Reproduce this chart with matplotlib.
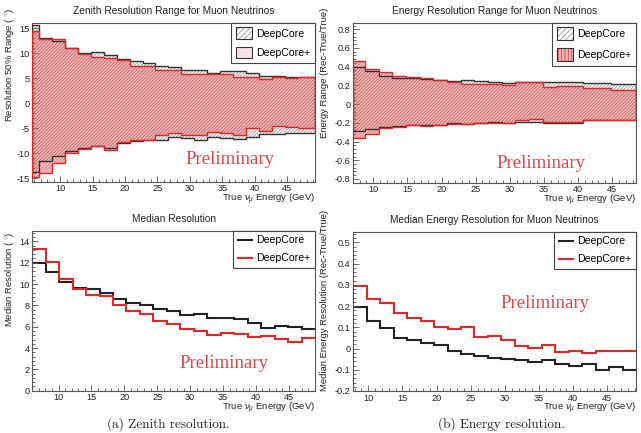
import matplotlib
matplotlib.use('Agg')
import matplotlib.pyplot as plt
from matplotlib.patches import Patch
from matplotlib.lines import Line2D
from matplotlib.legend_handler import HandlerTuple
from matplotlib.ticker import MultipleLocator, FuncFormatter

plt.rcParams['font.family'] = ['Liberation Sans', 'DejaVu Sans']
plt.rcParams['mathtext.fontset'] = 'custom'
plt.rcParams['mathtext.rm'] = 'Liberation Sans'
plt.rcParams['mathtext.it'] = 'Liberation Sans:italic'
plt.rcParams['hatch.linewidth'] = 0.5

# ---------------- data ----------------
# Zenith resolution 50% range (degrees)
zen_edges = [5.7, 6.7, 8.7, 10.7, 12.7, 14.7, 16.7, 18.7, 20.7, 22.7, 24.7, 26.7,
             28.7, 30.7, 32.7, 34.7, 36.7, 38.7, 40.7, 42.7, 44.7, 46.7, 49.3]
zen_dc_hi = [15.6, 13.0, 12.4, 11.0, 10.1, 10.3, 9.7, 8.8, 8.4, 8.0, 7.5,
             7.3, 6.7, 6.7, 6.1, 6.5, 6.5, 6.0, 5.4, 5.5, 5.3, 5.3]
zen_dc_lo = [-13.8, -11.5, -10.6, -9.5, -9.0, -8.5, -9.0, -8.0, -7.6, -7.3, -7.3,
             -6.8, -7.0, -7.3, -6.7, -7.0, -7.2, -6.7, -6.2, -6.2, -6.0, -6.0]
zen_dcp_hi = [14.5, 12.9, 12.8, 11.0, 9.8, 9.3, 9.0, 8.6, 7.5, 7.5, 6.7,
              6.7, 5.8, 5.8, 5.8, 5.9, 5.3, 5.2, 4.9, 5.2, 5.0, 5.3]
zen_dcp_lo = [-14.7, -14.0, -11.9, -10.0, -9.1, -8.6, -9.3, -7.8, -7.4, -7.3, -6.4,
              -6.0, -6.3, -6.3, -5.7, -6.0, -6.3, -5.0, -5.5, -4.5, -4.8, -5.0]

# Energy resolution range (Rec-True)/True
en_edges = [7.07, 8.8, 10.8, 12.8, 14.8, 16.8, 18.8, 20.8, 22.8, 24.8, 26.8,
            28.8, 30.8, 32.8, 34.8, 36.8, 38.8, 40.8, 42.8, 44.8, 46.8, 48.5]
en_dc_hi = [0.40, 0.35, 0.30, 0.28, 0.28, 0.265, 0.255, 0.25, 0.255, 0.245, 0.24,
            0.23, 0.24, 0.24, 0.24, 0.235, 0.24, 0.23, 0.23, 0.22, 0.21]
en_dc_lo = [-0.29, -0.27, -0.25, -0.23, -0.22, -0.225, -0.218, -0.207, -0.214, -0.207, -0.19,
            -0.20, -0.19, -0.19, -0.20, -0.20, -0.20, -0.17, -0.175, -0.17, -0.17]
en_dcp_hi = [0.465, 0.38, 0.34, 0.30, 0.285, 0.275, 0.255, 0.24, 0.22, 0.22, 0.21,
             0.20, 0.235, 0.235, 0.185, 0.19, 0.19, 0.17, 0.17, 0.15, 0.15]
en_dcp_lo = [-0.36, -0.315, -0.26, -0.245, -0.22, -0.235, -0.225, -0.215, -0.214, -0.207, -0.205,
             -0.205, -0.17, -0.155, -0.19, -0.19, -0.19, -0.165, -0.165, -0.17, -0.17]

# Median zenith resolution (degrees)
med_zen_edges = [6.0, 8.1, 10.1, 12.2, 14.2, 16.3, 18.3, 20.3, 22.4, 24.4, 26.5,
                 28.5, 30.6, 32.6, 34.7, 36.7, 38.8, 40.8, 42.9, 44.9, 47.0, 49.0]
med_zen_dc = [11.96, 11.15, 10.2, 9.66, 9.5, 9.16, 8.57, 8.22, 8.0, 7.7, 7.45,
              7.13, 7.16, 6.85, 6.8, 6.76, 6.35, 5.9, 6.07, 5.95, 5.8]
med_zen_dcp = [13.3, 12.1, 10.5, 9.56, 8.98, 8.9, 8.05, 7.5, 7.2, 6.5, 6.23,
               5.83, 5.6, 5.2, 5.42, 5.36, 5.05, 5.14, 4.83, 4.58, 4.95]

# Median energy resolution (Rec-True)/True
med_en_edges = [7.8, 9.77, 11.74, 13.71, 15.69, 17.66, 19.63, 21.6, 23.57, 25.54, 27.51,
                29.49, 31.46, 33.43, 35.4, 37.37, 39.34, 41.31, 43.29, 45.26, 47.23, 49.2]
med_en_dc = [0.197, 0.131, 0.098, 0.049, 0.042, 0.026, 0.018, -0.01, -0.024, -0.033, -0.044,
             -0.05, -0.055, -0.063, -0.055, -0.075, -0.082, -0.075, -0.1, -0.087, -0.1]
med_en_dcp = [0.294, 0.232, 0.216, 0.168, 0.142, 0.131, 0.103, 0.09, 0.101, 0.056, 0.06,
              0.042, 0.014, 0.003, 0.016, -0.016, -0.011, -0.02, -0.013, -0.011, -0.011]

titles = ["Zenith Resolution Range for Muon Neutrinos",
          "Energy Resolution Range for Muon Neutrinos",
          "Median Resolution",
          "Median Energy Resolution for Muon Neutrinos"]
ylabels = ["Resolution 50% Range ( $^{\\circ}$)",
           "Energy Range (Rec-True/True)",
           "Median Resolution ( $^{\\circ}$)",
           "Median Energy Resolution (Rec-True/True)"]
xlabel = r"True $\nu_{\mu}$ Energy (GeV)"
series = ["DeepCore", "DeepCore+"]
captions = ["(a) Zenith resolution.", "(b) Energy resolution."]
watermark = "Preliminary"

# ---------------- styles ----------------
RED = '#e02828'
PRELIM = '#d84848'
FRAME = '#555555'
TXT = '#222222'

W, H = 641, 433
fig = plt.figure(figsize=(W / 100, H / 100), dpi=100)


def add_ax(l, t, r, b):
    return fig.add_axes([l / W, 1 - b / H, (r - l) / W, (b - t) / H])


ax1 = add_ax(32.3, 22.7, 315, 181.7)
ax2 = add_ax(353.3, 22.7, 636, 182.7)
ax3 = add_ax(32.3, 230.7, 315, 390.7)
ax4 = add_ax(353.3, 231.7, 636, 391)


def fmt(v, pos):
    s = ('%g' % round(v, 6))
    if s == '-0':
        s = '0'
    return s


def style(ax, title, ylabel, xlim, ylim, xmaj, xmin, ymaj, ymin, ylx, yly):
    ax.set_xlim(*xlim)
    ax.set_ylim(*ylim)
    ax.xaxis.set_major_locator(MultipleLocator(xmaj))
    ax.xaxis.set_minor_locator(MultipleLocator(xmin))
    ax.yaxis.set_major_locator(MultipleLocator(ymaj))
    ax.yaxis.set_minor_locator(MultipleLocator(ymin))
    ax.yaxis.set_major_formatter(FuncFormatter(fmt))
    ax.tick_params(which='both', direction='in', top=False, right=False,
                   colors=FRAME, labelcolor=TXT, labelsize=6.6, width=0.6, pad=2)
    ax.tick_params(which='major', length=4.5)
    ax.tick_params(which='minor', length=2.2)
    for sp in ax.spines.values():
        sp.set_color(FRAME)
        sp.set_linewidth(0.8)
    ax.set_title(title, fontsize=7.3, color=TXT, pad=6)
    ax.set_ylabel(ylabel, fontsize=6.8, color=TXT, loc='top')
    ax.yaxis.set_label_coords(ylx, yly)
    ax.set_xlabel(xlabel, fontsize=6.8, color=TXT, loc='right')
    ax.xaxis.set_label_coords(1.0, -0.065)


HATCH = '//////////'


def band(ax, edges, lo, hi, face, hatchcol, linecol, z):
    ax.stairs(hi, edges, baseline=lo, fill=True, facecolor=face,
              edgecolor=hatchcol, hatch=HATCH, linewidth=0, zorder=z)
    ax.stairs(hi, edges, baseline=lo, fill=False, edgecolor=linecol,
              linewidth=1.0, zorder=z + 2)


DC_FACE = 'white'
DC_HATCH = '#8a8a8a'
DCP_FACE = (0.93, 0.45, 0.45, 0.45)
DCP_HATCH = (0.85, 0.2, 0.2, 0.55)

# top-left
band(ax1, zen_edges, zen_dc_lo, zen_dc_hi, DC_FACE, DC_HATCH, '#333333', 1)
band(ax1, zen_edges, zen_dcp_lo, zen_dcp_hi, DCP_FACE, DCP_HATCH, RED, 2)
style(ax1, titles[0], ylabels[0], (5.7, 49.3), (-15.7, 16.1), 5, 1, 5, 1, -0.059, 1.092)

# top-right
band(ax2, en_edges, en_dc_lo, en_dc_hi, DC_FACE, DC_HATCH, '#333333', 1)
band(ax2, en_edges, en_dcp_lo, en_dcp_hi, DCP_FACE, DCP_HATCH, RED, 2)
style(ax2, titles[1], ylabels[1], (7.07, 48.5), (-0.84, 0.87), 5, 1, 0.2, 0.04, -0.086, 1.092)

# bottom-left
ax3.stairs(med_zen_dc, med_zen_edges, baseline=None, color='#222222', linewidth=1.5)
ax3.stairs(med_zen_dcp, med_zen_edges, baseline=None, color=RED, linewidth=1.5)
style(ax3, titles[2], ylabels[2], (6.0, 49.0), (0, 15), 5, 1, 2, 0.4, -0.059, 0.995)

# bottom-right
ax4.stairs(med_en_dc, med_en_edges, baseline=None, color='#222222', linewidth=1.5)
ax4.stairs(med_en_dcp, med_en_edges, baseline=None, color=RED, linewidth=1.5)
style(ax4, titles[3], ylabels[3], (7.8, 49.2), (-0.2, 0.55), 5, 1, 0.1, 0.02, -0.086, 1.136)


# legends
def box_handle(face, hatchcol, hatch):
    fillp = Patch(facecolor=face, edgecolor=hatchcol, hatch=hatch, linewidth=0)
    edge = Patch(facecolor='none', edgecolor='#333333', linewidth=0.8)
    return (fillp, edge)


leg_kw = dict(loc='upper right', bbox_to_anchor=(1.0, 1.0), borderaxespad=0,
              fancybox=False, framealpha=1, edgecolor='#444444', fontsize=7.6,
              borderpad=0.45, labelspacing=0.75, handletextpad=0.4)

l1 = ax1.legend([box_handle('white', DC_HATCH, '//////'),
                 box_handle('#f6e2e2', '#f6e2e2', None)], series,
                handler_map={tuple: HandlerTuple(ndivide=1)},
                handlelength=1.5, handleheight=1.3, **leg_kw)
l2 = ax2.legend([box_handle('white', DC_HATCH, '//////'),
                 box_handle('#f0b0b0', '#d84040', '|||||')], series,
                handler_map={tuple: HandlerTuple(ndivide=1)},
                handlelength=1.5, handleheight=1.5, **leg_kw)
for lg in (l1, l2):
    lg.get_frame().set_linewidth(0.8)
    lg.set_zorder(10)

line_handles = [Line2D([], [], color='#222222', lw=1.5), Line2D([], [], color=RED, lw=1.5)]
for ax in (ax3, ax4):
    lg = ax.legend(line_handles, series, handlelength=1.3, **leg_kw)
    lg.get_frame().set_linewidth(0.8)
    lg.set_zorder(10)

# watermarks
for (x, y) in [(230, 160), (541, 163), (224, 363), (545, 303)]:
    fig.text(x / W, 1 - y / H, watermark, ha='center', va='center',
             fontsize=13.5, color=PRELIM, family=['Liberation Serif', 'DejaVu Serif'])

# captions
for (x, y), c in zip([(168, 424), (501, 424)], captions):
    fig.text(x / W, 1 - y / H, c, ha='center', va='center', fontsize=9.5,
             color='#222222', family=['cmr10', 'DejaVu Serif'])

fig.savefig('out.png', dpi=100)
